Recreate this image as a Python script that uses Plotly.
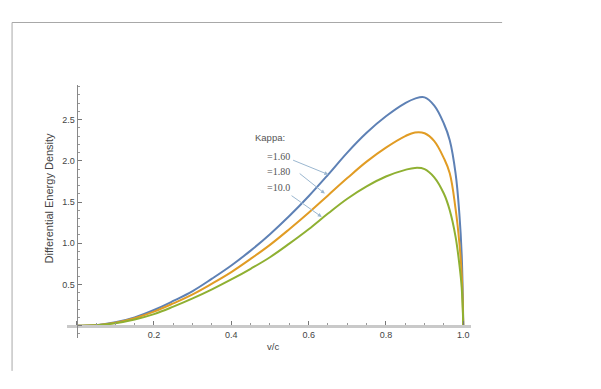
import plotly.graph_objects as go

v = [0, 0.05, 0.1, 0.15, 0.2, 0.25, 0.3, 0.35, 0.4, 0.45, 0.5, 0.55, 0.6, 0.65,
     0.7, 0.75, 0.8, 0.85, 0.875, 0.9, 0.925, 0.95, 0.965, 0.98, 0.99, 0.996, 1.0]

kappa_160 = [0, 0.005, 0.04, 0.10, 0.19, 0.30, 0.42, 0.57, 0.73, 0.91, 1.11, 1.33,
             1.57, 1.83, 2.10, 2.34, 2.54, 2.70, 2.755, 2.77, 2.67, 2.45, 2.25, 1.85,
             1.35, 0.85, 0]
kappa_180 = [0, 0.005, 0.035, 0.09, 0.17, 0.27, 0.38, 0.51, 0.65, 0.81, 0.98, 1.17,
             1.37, 1.58, 1.79, 1.99, 2.16, 2.30, 2.345, 2.335, 2.24, 2.03, 1.85, 1.42,
             1.0, 0.62, 0]
kappa_100 = [0, 0.004, 0.03, 0.075, 0.14, 0.23, 0.33, 0.44, 0.56, 0.69, 0.83, 0.995,
             1.17, 1.36, 1.54, 1.69, 1.81, 1.89, 1.914, 1.90, 1.80, 1.60, 1.40, 1.08,
             0.74, 0.46, 0]

series_names = ["1.60", "1.80", "10.0"]
series_colors = ["#5E81B5", "#E19C24", "#8FB032"]

x_tick_vals = [0, 0.2, 0.4, 0.6, 0.8, 1.0]
x_tick_text = ["", "0.2", "0.4", "0.6", "0.8", "1.0"]
y_tick_vals = [0, 0.5, 1.0, 1.5, 2.0, 2.5]
y_tick_text = ["", "0.5", "1.0", "1.5", "2.0", "2.5"]

legend_title = "Kappa:"
label_text = ["=1.60", "=1.80", "=10.0"]
label_x = 0.487
label_y = [2.055, 1.865, 1.671]
title_pos = (0.456, 2.284)
arrow_tail = [(0.556, 2.015), (0.573, 1.860), (0.552, 1.590)]
arrow_head = [(0.651, 1.833), (0.642, 1.602), (0.634, 1.319)]

x_range = [-0.025, 1.02]
y_range = [-0.15, 2.92]

fig = go.Figure()
for ys, name, col in zip([kappa_160, kappa_180, kappa_100], series_names, series_colors):
    fig.add_trace(go.Scatter(x=v, y=ys, mode="lines", name=name,
                             line=dict(color=col, width=2, shape="spline", smoothing=1.1),
                             showlegend=False))

font_main = "Liberation Sans, Arial, sans-serif"

xpos = (0 - y_range[0]) / (y_range[1] - y_range[0])
ypos = (0 - x_range[0]) / (x_range[1] - x_range[0])

fig.update_layout(
    width=593, height=381,
    margin=dict(l=59, r=130, t=77, b=51),
    paper_bgcolor="white", plot_bgcolor="white",
    xaxis=dict(range=x_range, anchor="free", position=xpos,
               showgrid=False, zeroline=False, showline=True,
               linecolor="#c9c9c9", linewidth=2.5,
               tickmode="array", tickvals=x_tick_vals, ticktext=x_tick_text,
               ticks="inside", ticklen=4, tickcolor="#777", tickwidth=1,
               minor=dict(tickmode="linear", tick0=0, dtick=0.05, ticks="inside",
                          ticklen=2, tickcolor="#999"),
               tickfont=dict(family=font_main, size=9, color="#444")),
    yaxis=dict(range=y_range, anchor="free", position=ypos,
               showgrid=False, zeroline=False, showline=True,
               linecolor="#888", linewidth=1,
               tickmode="array", tickvals=y_tick_vals, ticktext=y_tick_text,
               ticks="inside", ticklen=4, tickcolor="#777", tickwidth=1,
               minor=dict(tickmode="linear", tick0=0, dtick=0.1, ticks="inside",
                          ticklen=2, tickcolor="#999"),
               tickfont=dict(family=font_main, size=9, color="#444")),
)

# outer frame lines (top and left edges of the original figure panel)
fig.add_shape(type="line", xref="paper", yref="paper", x0=-0.136, x1=1.077,
              y0=1.247, y1=1.247, line=dict(color="#a8a8a8", width=1))
fig.add_shape(type="line", xref="paper", yref="paper", x0=-0.136, x1=-0.136,
              y0=1.247, y1=-0.13, line=dict(color="#a8a8a8", width=1))

# axis titles
fig.add_annotation(text="v/c", xref="paper", yref="paper", x=0.51, y=-0.034,
                   showarrow=False, xanchor="center", yanchor="middle",
                   font=dict(family=font_main, size=9.5, color="#444"))
fig.add_annotation(text="Differential Energy Density", xref="paper", yref="paper",
                   x=-0.045, y=0.555, textangle=-90, showarrow=False,
                   xanchor="center", yanchor="middle",
                   font=dict(family=font_main, size=11, color="#444"))

# kappa labels
fig.add_annotation(text=legend_title, x=title_pos[0], y=title_pos[1], xref="x", yref="y",
                   showarrow=False, xanchor="left", yanchor="middle",
                   font=dict(family=font_main, size=9.5, color="#555"))
for t, ly in zip(label_text, label_y):
    fig.add_annotation(text=t, x=label_x, y=ly, xref="x", yref="y",
                       showarrow=False, xanchor="left", yanchor="middle",
                       font=dict(family="Liberation Serif, Times New Roman, serif",
                                 size=10, color="#555"))
for (tx, ty), (hx, hy) in zip(arrow_tail, arrow_head):
    fig.add_annotation(x=hx, y=hy, ax=tx, ay=ty, xref="x", yref="y",
                       axref="x", ayref="y", text="", showarrow=True,
                       arrowhead=2, arrowsize=0.8, arrowwidth=1,
                       arrowcolor="#9bb7d0")

fig.write_html("out.html")
